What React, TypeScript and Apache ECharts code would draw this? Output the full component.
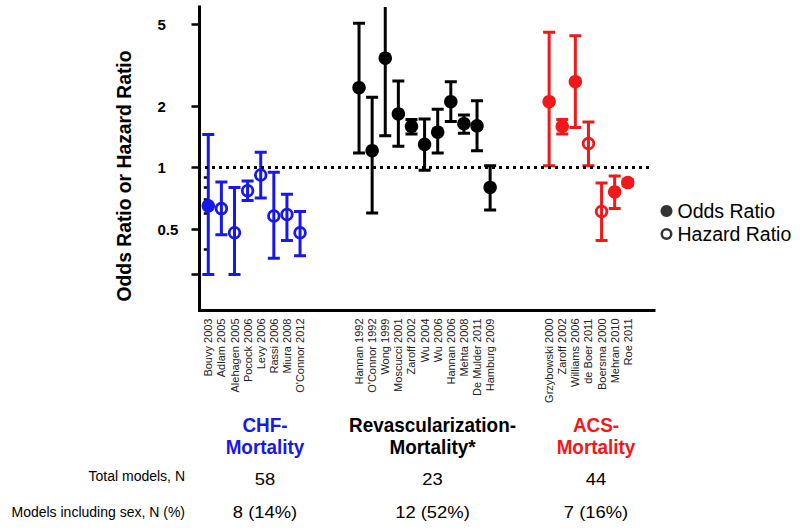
import { useEffect, useRef } from 'react';
import * as echarts from 'echarts';

// ---------- data ----------
const chfStudies = ['Bouvy 2003', 'Adlam 2005', 'Alehagen 2005', 'Pocock 2006', 'Levy 2006', 'Rassi 2006', 'Miura 2008', "O'Connor 2012"];
const chfRatio = [0.65, 0.63, 0.48, 0.77, 0.92, 0.58, 0.59, 0.48];
const chfLower = [0.3, 0.47, 0.3, 0.69, 0.71, 0.36, 0.44, 0.37];
const chfUpper = [1.45, 0.85, 0.8, 0.86, 1.19, 0.95, 0.74, 0.61];
const chfMeasure = ['OR', 'HR', 'HR', 'HR', 'HR', 'HR', 'HR', 'HR'];

const revStudies = ['Hannan 1992', "O'Connor 1992", 'Wong 1999', 'Moscucci 2001', 'Zaroff 2002', 'Wu 2004', 'Wu 2006', 'Hannan 2006', 'Mehta 2008', 'De Mulder 2011', 'Hamburg 2009'];
const revRatio = [2.46, 1.21, 3.43, 1.83, 1.59, 1.3, 1.49, 2.1, 1.64, 1.6, 0.8];
const revLower = [1.18, 0.6, 1.43, 1.27, 1.46, 0.97, 1.18, 1.68, 1.47, 1.21, 0.62];
const revUpper = [5.08, 2.21, 7.0, 2.65, 1.72, 1.73, 1.93, 2.63, 1.81, 2.12, 1.02];
const revMeasure = ['OR', 'OR', 'OR', 'OR', 'OR', 'OR', 'OR', 'OR', 'OR', 'OR', 'OR'];

const acsStudies = ['Grzybowski 2000', 'Zaroff 2002', 'Williams 2006', 'de Boer 2011', 'Boersma 2000', 'Mehran 2010', 'Roe 2011'];
const acsRatio = [2.1, 1.59, 2.63, 1.31, 0.61, 0.76, 0.845];
const acsLower = [1.02, 1.46, 1.57, 1.02, 0.44, 0.63, 0.817];
const acsUpper = [4.59, 1.72, 4.41, 1.67, 0.84, 0.91, 0.871];
const acsMeasure = ['OR', 'OR', 'OR', 'HR', 'HR', 'OR', 'OR'];

const groupTitles = [['CHF-', 'Mortality'], ['Revascularization-', 'Mortality*'], ['ACS-', 'Mortality']];
const totalModels = ['58', '23', '44'];
const modelsWithSex = ['8 (14%)', '12 (52%)', '7 (16%)'];
const rowLabels = ['Total models, N', 'Models including sex, N (%)'];
const legendNames = ['Odds Ratio', 'Hazard Ratio'];
const yAxisTitle = 'Odds Ratio or Hazard Ratio';
const yLabelValues = [0.5, 1, 2, 5];
const yMajorTicks = [0.3, 0.5, 1, 2, 5];
const yMinorTicks = [0.4, 0.6, 0.7, 0.8, 0.9];
const yMin = 0.2;
const yMax = 6.1;
const referenceRatio = 1;

// ---------- styling / layout ----------
const FONT = "'Liberation Sans', Arial, Helvetica, sans-serif";
const BLUE = '#1818e8';
const RED = '#f01818';
const BLACK = '#000000';
const GROUP_GAP = 4.5;
const RING = 'path://M10,0 A10,10 0 1,1 10,20 A10,10 0 1,1 10,0 Z M10,4.2 A5.8,5.8 0 1,0 10,15.8 A5.8,5.8 0 1,0 10,4.2 Z';
const groupCenters = [265, 432.5, 596];

const lg = (v: number) => Math.log10(v);

const groups = [
  { studies: chfStudies, ratio: chfRatio, lower: chfLower, upper: chfUpper, measure: chfMeasure, color: BLUE },
  { studies: revStudies, ratio: revRatio, lower: revLower, upper: revUpper, measure: revMeasure, color: BLACK },
  { studies: acsStudies, ratio: acsRatio, lower: acsLower, upper: acsUpper, measure: acsMeasure, color: RED },
];

export default function App() {
  const ref = useRef<HTMLDivElement>(null);

  useEffect(() => {
    if (!ref.current) return;
    const chart = echarts.init(ref.current, null, { renderer: 'svg' });

    // positions along x
    const positions: number[][] = [];
    let start = 0;
    groups.forEach((g) => {
      positions.push(g.studies.map((_, i) => start + i));
      start = start + g.studies.length - 1 + GROUP_GAP;
    });
    const allPos = positions.flat();
    const allNames = groups.flatMap((g) => g.studies);
    const labelAt = (v: number) => {
      const idx = allPos.findIndex((p) => Math.abs(p - v) < 1e-6);
      return idx >= 0 ? allNames[idx] : '';
    };

    const series: any[] = [];
    groups.forEach((g, gi) => {
      const col = g.color;
      series.push({
        type: 'custom',
        clip: true,
        z: 2,
        silent: true,
        encode: { x: 0, y: [1, 2] },
        data: g.studies.map((_, i) => [positions[gi][i], lg(g.lower[i]), lg(g.upper[i])]),
        renderItem: (_params: any, api: any) => {
          const x = api.value(0);
          const top = api.coord([x, api.value(2)]);
          const bot = api.coord([x, api.value(1)]);
          const half = 6;
          const style = { stroke: col, lineWidth: 3, fill: 'none' };
          return {
            type: 'group',
            children: [
              { type: 'line', shape: { x1: top[0], y1: top[1], x2: bot[0], y2: bot[1] }, style },
              { type: 'line', shape: { x1: top[0] - half, y1: top[1], x2: top[0] + half, y2: top[1] }, style },
              { type: 'line', shape: { x1: bot[0] - half, y1: bot[1], x2: bot[0] + half, y2: bot[1] }, style },
            ],
          };
        },
      });
      const scatter: any = {
        type: 'scatter',
        z: 3,
        silent: true,
        itemStyle: { color: col, opacity: 1 },
        data: g.studies.map((_, i) => ({
          value: [positions[gi][i], lg(g.ratio[i])],
          symbol: g.measure[i] === 'OR' ? 'circle' : RING,
          symbolSize: 13.5,
        })),
      };
      if (gi === 0) {
        scatter.markLine = {
          silent: true,
          symbol: ['none', 'none'],
          label: { show: false },
          emphasis: { disabled: true },
          lineStyle: { color: BLACK, width: 3, type: [3, 4], cap: 'butt' },
          data: [[{ coord: [-0.25, lg(referenceRatio)] }, { coord: [33.84, lg(referenceRatio)] }]],
        };
      }
      series.push(scatter);
    });
    // legend-only series
    series.push({ name: legendNames[0], type: 'scatter', data: [], itemStyle: { color: BLACK } });
    series.push({ name: legendNames[1], type: 'scatter', data: [], itemStyle: { color: BLACK } });

    const graphic: any[] = [
      {
        type: 'text',
        x: 123.5,
        y: 176,
        rotation: Math.PI / 2,
        scaleX: 0.92,
        style: { text: yAxisTitle, fontFamily: FONT, fontSize: 21, fontWeight: 'bold', fill: BLACK, align: 'center', verticalAlign: 'middle' },
      },
    ];
    const titleColors = [BLUE, BLACK, RED];
    groupTitles.forEach((lines, gi) => {
      lines.forEach((t, li) => {
        graphic.push({
          type: 'text',
          x: groupCenters[gi],
          y: li === 0 ? 425 : 446.5,
          scaleX: 0.9,
          style: { text: t, fontFamily: FONT, fontSize: 21, fontWeight: 'bold', fill: titleColors[gi], align: 'center', verticalAlign: 'middle' },
        });
      });
      graphic.push({
        type: 'text', x: groupCenters[gi], y: 479.5, scaleX: 1.15,
        style: { text: totalModels[gi], fontFamily: FONT, fontSize: 16, fill: BLACK, align: 'center', verticalAlign: 'middle' },
      });
      graphic.push({
        type: 'text', x: groupCenters[gi], y: 512, scaleX: 1.15,
        style: { text: modelsWithSex[gi], fontFamily: FONT, fontSize: 16, fill: BLACK, align: 'center', verticalAlign: 'middle' },
      });
    });
    rowLabels.forEach((t, i) => {
      graphic.push({
        type: 'text', x: 185, y: i === 0 ? 476 : 511.5,
        style: { text: t, fontFamily: FONT, fontSize: 14, fill: BLACK, align: 'right', verticalAlign: 'middle' },
      });
    });

    const option: any = {
      animation: false,
      backgroundColor: '#ffffff',
      textStyle: { fontFamily: FONT },
      grid: { left: 199.5, top: 7, width: 454.5, height: 303.5, containLabel: false, outerBoundsMode: 'none' },
      xAxis: {
        type: 'value',
        min: -0.67,
        max: 34.0,
        splitLine: { show: false },
        axisTick: { show: false },
        axisLine: { show: true, onZero: false, lineStyle: { color: BLACK, width: 3, cap: 'square' } },
        axisLabel: {
          customValues: allPos,
          formatter: (v: number) => labelAt(v),
          rotate: 90,
          fontSize: 11,
          fontFamily: FONT,
          color: '#222222',
          margin: 8,
        },
      },
      yAxis: [
        {
          type: 'value',
          position: 'left',
          min: lg(yMin),
          max: lg(yMax),
          splitLine: { show: false },
          axisLine: { show: true, onZero: false, lineStyle: { color: BLACK, width: 3, cap: 'square' } },
          axisTick: { show: true, customValues: yMajorTicks.map(lg), length: 8, lineStyle: { color: BLACK, width: 2.5 } },
          axisLabel: {
            customValues: yLabelValues.map(lg),
            formatter: (v: number) => String(Number(Math.pow(10, v).toPrecision(3))),
            fontSize: 15,
            fontWeight: 'bold',
            fontFamily: FONT,
            color: BLACK,
            align: 'left',
            margin: 42,
          },
        },
        {
          type: 'value',
          position: 'left',
          min: lg(yMin),
          max: lg(yMax),
          splitLine: { show: false },
          axisLine: { show: false },
          axisTick: { show: true, customValues: yMinorTicks.map(lg), length: 4.5, lineStyle: { color: BLACK, width: 2.5 } },
          axisLabel: { show: false },
        },
      ],
      legend: {
        orient: 'vertical',
        left: 660.5,
        top: 201,
        padding: 0,
        itemGap: 3,
        itemWidth: 12,
        itemHeight: 12,
        selectedMode: false,
        textStyle: { fontSize: 19.5, lineHeight: 20, color: BLACK, fontFamily: FONT },
        data: [
          { name: legendNames[0], icon: 'circle' },
          { name: legendNames[1], icon: RING },
        ],
      },
      series,
      graphic,
    };
    chart.setOption(option);
    return () => chart.dispose();
  }, []);

  return <div ref={ref} style={{ position: 'absolute', left: 0, top: 0, width: 800, height: 531 }} />;
}
